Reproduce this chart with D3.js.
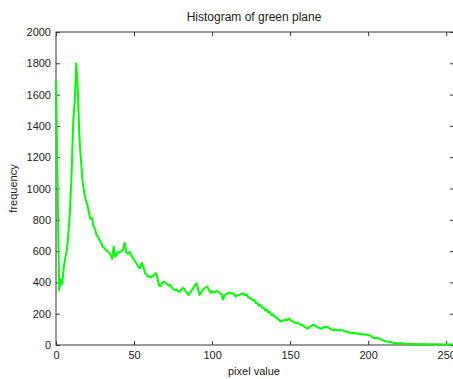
<!DOCTYPE html>
<html>
<head>
<meta charset="utf-8">
<script src="https://cdn.jsdelivr.net/npm/d3@7"></script>
<style>
  body { margin: 0; background: #fff; }
  svg { display: block; font-family: "Liberation Sans", Arial, sans-serif; }
</style>
</head>
<body>
<svg width="453" height="379"></svg>
<script>
// histogram counts for pixel values 0..255
const counts = [
  1690, 1040, 350, 420, 390, 500, 560, 610, 720, 870,
  1100, 1420, 1560, 1800, 1620, 1330, 1180, 1050, 980, 930,
  900, 850, 805, 812, 760, 742, 700, 692, 665, 652,
  625, 620, 605, 600, 590, 575, 550, 630, 565, 580,
  595, 590, 600, 610, 655, 590, 585, 595, 580, 560,
  545, 530, 515, 495, 490, 525, 500, 460, 450, 436,
  440, 432, 440, 450, 460, 430, 380, 375, 395, 405,
  400, 390, 380, 385, 370, 360, 350, 355, 345, 340,
  350, 365, 360, 345, 330, 320, 335, 350, 365, 380,
  395, 360, 320, 335, 350, 362, 368, 373, 350, 335,
  345, 334, 338, 345, 341, 330, 325, 290, 318, 325,
  330, 335, 328, 330, 325, 310, 315, 320, 322, 328,
  330, 318, 325, 306, 300, 296, 285, 288, 268, 270,
  250, 256, 238, 240, 220, 226, 208, 212, 192, 196,
  180, 176, 170, 158, 150, 156, 158, 164, 158, 166,
  164, 152, 150, 143, 139, 143, 133, 130, 128, 118,
  112, 104, 110, 120, 124, 130, 124, 118, 110, 108,
  104, 110, 116, 117, 112, 108, 100, 98, 94, 99,
  95, 93, 98, 96, 91, 88, 85, 86, 79, 75,
  77, 78, 73, 75, 72, 69, 70, 67, 68, 65,
  64, 61, 56, 48, 43, 46, 44, 42, 38, 31,
  27, 25, 22, 21, 19, 17, 14, 12, 11, 11,
  10, 12, 11, 9, 8, 7, 7, 6, 6, 6,
  6, 5, 6, 5, 5, 5, 6, 5, 5, 4,
  5, 4, 4, 5, 4, 4, 4, 3, 4, 3,
  3, 3, 4, 3, 3, 3
];
const xTicks = [0, 50, 100, 150, 200, 250];
const yTicks = [0, 200, 400, 600, 800, 1000, 1200, 1400, 1600, 1800, 2000];

const svg = d3.select("svg");
const box = { left: 56, right: 454, top: 32, bottom: 345 };

const x = d3.scaleLinear().domain([0, 255]).range([box.left, box.right]);
const y = d3.scaleLinear().domain([0, 2000]).range([box.bottom, box.top]);

const axisColor = "#333";
const tick = 4;

// plot box
svg.append("rect")
   .attr("x", box.left).attr("y", box.top)
   .attr("width", box.right - box.left).attr("height", box.bottom - box.top)
   .attr("fill", "none").attr("stroke", axisColor).attr("stroke-width", 1);

// bottom axis
svg.append("g")
   .attr("transform", `translate(0, ${box.bottom})`)
   .call(d3.axisBottom(x).tickValues(xTicks).tickFormat(d3.format("d"))
           .tickSizeInner(-tick).tickSizeOuter(0).tickPadding(6));
// left axis
svg.append("g")
   .attr("transform", `translate(${box.left}, 0)`)
   .call(d3.axisLeft(y).tickValues(yTicks).tickFormat(d3.format("d"))
           .tickSizeInner(-tick).tickSizeOuter(0).tickPadding(5));
// top and right ticks
svg.append("g")
   .attr("transform", `translate(0, ${box.top})`)
   .call(d3.axisTop(x).tickValues(xTicks).tickSizeInner(-tick).tickSizeOuter(0).tickFormat(""));
svg.append("g")
   .attr("transform", `translate(${box.right}, 0)`)
   .call(d3.axisRight(y).tickValues(yTicks).tickSizeInner(-tick).tickSizeOuter(0).tickFormat(""));

svg.selectAll(".domain").remove();
svg.selectAll(".tick line").attr("stroke", axisColor);
svg.selectAll(".tick text")
   .attr("fill", "#222")
   .style("font-size", "11px")
   .style("font-family", "Liberation Sans, Arial, sans-serif");

// histogram line
const line = d3.line()
   .x((d, i) => x(i))
   .y(d => y(d));

svg.append("path")
   .datum(counts)
   .attr("fill", "none")
   .attr("stroke", "#00ff00")
   .attr("stroke-width", 2)
   .attr("stroke-linejoin", "round")
   .attr("d", line);

// title and labels
svg.append("text")
   .attr("x", 254).attr("y", 21)
   .attr("text-anchor", "middle")
   .attr("fill", "#222")
   .style("font-size", "12px")
   .text("Histogram of green plane");

svg.append("text")
   .attr("x", 254).attr("y", 375)
   .attr("text-anchor", "middle")
   .attr("fill", "#222")
   .style("font-size", "11px")
   .text("pixel value");

svg.append("text")
   .attr("transform", `translate(17, ${(box.top + box.bottom) / 2}) rotate(-90)`)
   .attr("text-anchor", "middle")
   .attr("fill", "#222")
   .style("font-size", "11px")
   .text("frequency");
</script>
</body>
</html>
